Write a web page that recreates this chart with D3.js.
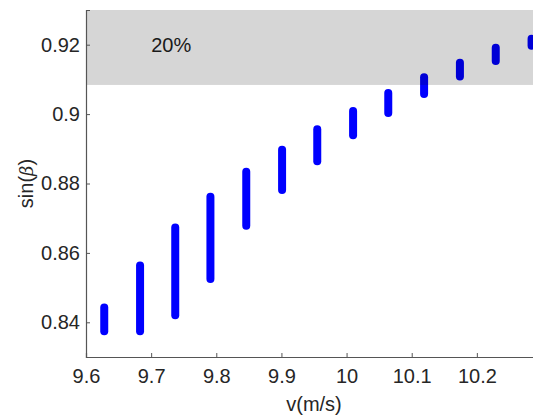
<!DOCTYPE html>
<html>
<head>
<meta charset="utf-8">
<script src="https://cdn.jsdelivr.net/npm/d3@7"></script>
<style>
  body { margin: 0; background: #fff; }
  text { font-family: "Liberation Sans", Arial, sans-serif; }
</style>
</head>
<body>
<div class="grafico"></div>
<script>
var margin = { top: 10, right: -9, bottom: 59, left: 86 },
  width = 533,
  height = 416;

// velocity of each vertical range
const speeds = [9.628, 9.683, 9.737, 9.791, 9.846, 9.901, 9.955, 10.010, 10.064, 10.119, 10.174, 10.229, 10.284];
// lower / upper sin(beta) at each speed
const sinLow  = [0.8374, 0.8374, 0.8420, 0.8525, 0.8678, 0.8781, 0.8864, 0.8939, 0.9003, 0.9058, 0.9108, 0.9153, 0.9197];
const sinHigh = [0.8443, 0.8564, 0.8673, 0.8762, 0.8834, 0.8897, 0.8956, 0.9009, 0.9061, 0.9106, 0.9148, 0.9191, 0.9217];

const xTicks = [9.6, 9.7, 9.8, 9.9, 10, 10.1, 10.2];
const yTicks = [0.84, 0.86, 0.88, 0.9, 0.92];
const band = [0.9084, 0.93];
const bandLabel = "20%";

let svg = d3.select(".grafico")
  .append("svg")
  .attr("width", width)
  .attr("height", height);

const x = d3.scaleLinear()
  .domain([9.6, 10.3])
  .range([margin.left, width - margin.right]);

const y = d3.scaleLinear()
  .domain([0.83, 0.93])
  .range([height - margin.bottom, margin.top]);

// bars
svg.selectAll("line.bar")
  .data(speeds)
  .enter().append("line")
  .attr("class", "bar")
  .attr("x1", d => x(d))
  .attr("x2", d => x(d))
  .attr("y1", (d, i) => y(sinLow[i]))
  .attr("y2", (d, i) => y(sinHigh[i]))
  .attr("stroke", "#0000ff")
  .attr("stroke-width", 8)
  .attr("stroke-linecap", "round");

// translucent band over the top
svg.append("rect")
  .attr("x", x(9.6))
  .attr("y", y(band[1]))
  .attr("width", x(10.3) - x(9.6))
  .attr("height", y(band[0]) - y(band[1]))
  .attr("fill", "#000")
  .attr("fill-opacity", 0.16);

svg.append("text")
  .attr("x", x(9.7))
  .attr("y", y(0.92))
  .attr("dy", "0.35em")
  .attr("font-size", 20)
  .attr("fill", "#1a1a1a")
  .text(bandLabel);

const xAxis = d3.axisBottom(x)
  .tickValues(xTicks)
  .tickSize(-4)
  .tickPadding(12)
  .tickFormat(d3.format("~g"));

const yAxis = d3.axisLeft(y)
  .tickValues(yTicks)
  .tickSize(-4)
  .tickPadding(6)
  .tickFormat(d3.format("~g"));

let gx = svg.append("g")
  .attr("class", "x axis")
  .attr("transform", "translate(0," + (height - margin.bottom) + ")")
  .call(xAxis);

let gy = svg.append("g")
  .attr("class", "y axis")
  .attr("transform", "translate(" + margin.left + ",0)")
  .call(yAxis);

[gx, gy].forEach(g => {
  g.select(".domain").attr("stroke", "#555").attr("stroke-width", 1.2);
  g.selectAll(".tick line").attr("stroke", "#555");
  g.selectAll(".tick text")
    .attr("font-size", 20)
    .attr("fill", "#262626")
    .style("font-family", "'Liberation Sans', Arial, sans-serif");
});

// axis labels
svg.append("text")
  .attr("x", (x(9.6) + x(10.3)) / 2)
  .attr("y", 411)
  .attr("text-anchor", "middle")
  .attr("font-size", 20)
  .attr("fill", "#262626")
  .text("v(m/s)");

let ylab = svg.append("text")
  .attr("transform", "translate(33," + (y(0.88)) + ") rotate(-90)")
  .attr("text-anchor", "middle")
  .attr("font-size", 20)
  .attr("fill", "#262626");
ylab.append("tspan").text("sin(");
ylab.append("tspan").attr("font-style", "italic").attr("font-family", "'DejaVu Serif', serif").attr("font-size", 18).text("β");
ylab.append("tspan").text(")");
</script>
</body>
</html>
